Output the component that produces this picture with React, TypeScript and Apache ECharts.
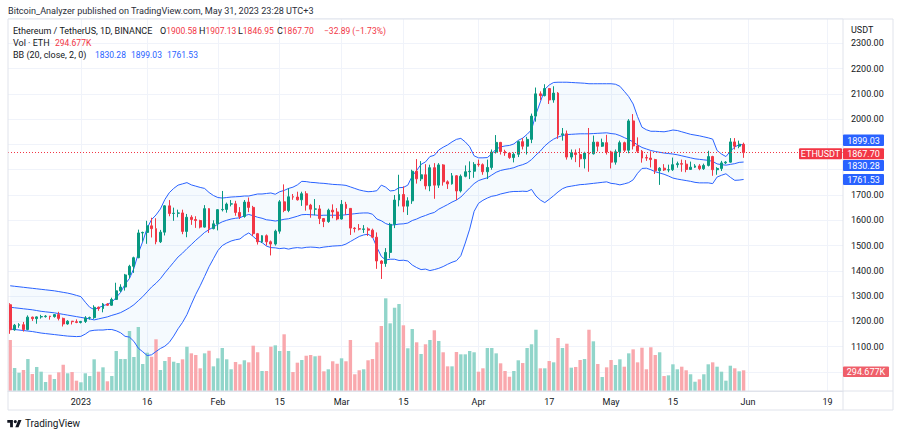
import React, { useEffect, useRef } from "react";
import * as echarts from "echarts";

// ---------- data ----------
const START_UTC = Date.UTC(2022, 11, 16);
const TOTAL_SLOTS = 189; // Dec 16 2022 .. Jun 22 2023 (future slots empty)

const opens = [1266,1167,1185,1187,1168,1217,1211,1218,1219,1221,1219,1227,1212,1190,1201,1199,1196,1200,1214,1215,
1256,1251,1269,1264,1287,1321,1336,1384,1418,1452,1550,1552,1578,1567,1515,1553,1657,1627,1628,1629,
1556,1612,1603,1599,1573,1646,1567,1586,1642,1643,1664,1665,1631,1615,1672,1651,1547,1515,1539,1515,
1506,1557,1673,1639,1693,1692,1681,1705,1660,1644,1645,1607,1595,1640,1633,1605,1663,1647,1569,1567,
1564,1566,1561,1533,1439,1429,1473,1584,1680,1702,1656,1677,1794,1764,1780,1736,1808,1739,1819,1752,
1744,1776,1716,1774,1792,1794,1822,1820,1792,1809,1870,1908,1872,1866,1848,1861,1911,1893,1920,2012,
2100,2093,2121,2076,2103,1938,1942,1850,1867,1860,1843,1866,1863,1909,1893,1907,1870,1830,1871,1907,
1877,1993,1894,1873,1848,1846,1840,1796,1806,1799,1800,1820,1824,1822,1801,1810,1815,1804,1817,1852,
1800,1805,1827,1830,1910,1893,1900.58];
const highs = [1272,1190,1193,1198,1224,1219,1220,1226,1225,1222,1229,1238,1215,1205,1202,1208,1202,1221,1219,1264,
1259,1273,1272,1294,1353,1347,1388,1424,1456,1563,1555,1598,1610,1608,1562,1660,1680,1650,1642,1642,
1625,1620,1616,1602,1660,1648,1600,1644,1716,1670,1680,1677,1652,1680,1690,1657,1550,1541,1544,1520,
1563,1680,1742,1727,1704,1713,1713,1715,1665,1684,1660,1609,1646,1663,1648,1680,1673,1648,1573,1585,
1581,1572,1567,1552,1442,1490,1590,1700,1780,1734,1691,1800,1842,1834,1822,1820,1826,1826,1822,1758,
1787,1779,1781,1817,1833,1830,1840,1825,1840,1880,1937,1910,1879,1870,1868,1915,1925,1930,2022,2125,
2110,2138,2122,2130,2107,1965,1955,1880,1880,1885,1871,1965,1935,1910,1923,1938,1875,1880,1915,1911,
2000,2020,1928,1878,1860,1873,1843,1810,1822,1820,1848,1832,1840,1838,1832,1822,1822,1824,1875,1855,
1810,1835,1834,1925,1925,1915,1907.13];
const lows = [1151,1163,1175,1160,1165,1202,1191,1211,1215,1207,1215,1204,1180,1187,1188,1193,1192,1194,1207,1210,
1242,1236,1262,1262,1285,1316,1322,1370,1392,1450,1515,1507,1532,1505,1510,1540,1616,1598,1612,1545,
1533,1582,1570,1568,1571,1550,1564,1560,1635,1630,1655,1618,1605,1610,1632,1538,1504,1510,1500,1461,
1500,1547,1632,1632,1681,1678,1657,1638,1610,1620,1585,1573,1590,1608,1600,1603,1622,1542,1552,1560,
1550,1538,1530,1408,1368,1416,1450,1569,1655,1632,1621,1665,1745,1755,1722,1715,1685,1728,1737,1724,
1741,1680,1710,1770,1763,1768,1812,1780,1763,1800,1864,1860,1855,1843,1829,1850,1880,1860,1905,1990,
2075,2090,2060,2065,1922,1915,1840,1840,1830,1810,1805,1792,1860,1872,1890,1860,1805,1820,1850,1870,
1865,1880,1866,1828,1835,1809,1783,1740,1795,1790,1795,1808,1792,1790,1799,1807,1798,1799,1813,1776,
1780,1795,1822,1828,1880,1885,1846.95];
const closes = [1167,1185,1187,1168,1217,1211,1218,1219,1221,1219,1227,1212,1190,1201,1199,1196,1200,1214,1215,1256,
1251,1269,1264,1287,1321,1336,1384,1418,1452,1550,1552,1578,1567,1515,1553,1657,1627,1628,1629,1556,
1612,1603,1599,1573,1646,1567,1586,1642,1643,1664,1665,1631,1615,1672,1651,1547,1515,1539,1515,1506,
1557,1673,1639,1693,1692,1681,1705,1660,1644,1645,1607,1595,1640,1633,1605,1663,1647,1569,1567,1565,
1566,1561,1533,1439,1429,1473,1584,1680,1702,1656,1677,1794,1764,1780,1736,1808,1739,1819,1752,1744,
1776,1716,1774,1792,1794,1821,1820,1792,1809,1870,1908,1872,1866,1848,1861,1911,1893,1920,2012,2100,
2093,2121,2076,2103,1938,1942,1850,1867,1860,1843,1866,1863,1909,1893,1907,1870,1830,1871,1907,1877,
1993,1894,1873,1846,1846,1840,1796,1806,1799,1800,1820,1824,1822,1801,1810,1815,1804,1817,1852,1800,
1805,1827,1830,1910,1893,1901,1867.70];
// volume in thousands of ETH
const volumes = [726,327,260,299,455,242,342,275,128,232,171,266,374,252,270,147,124,252,213,451,
275,337,138,213,569,455,455,854,484,911,384,545,488,736,299,427,484,417,398,451,
630,536,512,323,536,573,351,465,612,451,309,413,380,437,408,645,551,285,285,630,
650,569,807,569,270,403,441,502,512,494,502,280,309,423,388,465,423,726,238,295,
309,437,455,693,925,1319,963,1185,1238,935,608,882,693,527,665,726,864,712,551,351,
351,555,522,522,569,551,275,323,612,612,536,394,285,203,285,437,398,612,665,872,
323,323,427,408,754,612,673,332,342,441,455,872,707,384,199,337,441,370,451,346,
536,593,408,616,309,622,512,551,213,223,380,309,346,295,238,132,166,238,380,408,
346,275,147,360,323,280,294.677];
const bbUpper = [1341,1339,1337,1335,1333,1331,1329,1327,1325,1323,1321,1318,1315,1312,1308,1303,1298,1276,1256,1247,
1254,1262,1268,1276,1295,1315,1347,1370,1410,1470,1516,1569,1603,1621,1645,1682,1709,1726,1739,1744,
1749,1740,1735,1730,1726,1710,1698,1690,1688,1690,1692,1693,1694,1696,1696,1700,1704,1704,1706,1708,
1703,1713,1718,1726,1731,1740,1754,1753,1750,1749,1747,1746,1744,1742,1741,1740,1738,1732,1726,1720,
1716,1713,1714,1717,1739,1731,1716,1718,1729,1730,1739,1775,1797,1821,1831,1852,1857,1878,1889,1898,
1910,1920,1924,1910,1891,1855,1847,1847,1848,1863,1882,1890,1894,1896,1902,1916,1925,1940,1958,2020,
2068,2118,2135,2145,2146,2146,2146,2145,2144,2143,2142,2140,2140,2140,2140,2140,2140,2138,2130,2110,
2089,2060,2010,1968,1958,1952,1952,1951,1950,1953,1957,1955,1950,1945,1940,1937,1934,1930,1926,1921,
1876,1862,1852,1873,1890,1899,1899.03];
const bbMiddle = [1256,1254,1252,1250,1248,1246,1243,1240,1238,1236,1234,1231,1228,1225,1222,1219,1216,1213,1210,1206,
1210,1214,1218,1224,1229,1235,1244,1254,1266,1282,1298,1317,1336,1351,1369,1392,1413,1434,1455,1470,
1488,1504,1521,1536,1552,1563,1573,1585,1594,1600,1605,1608,1610,1618,1623,1618,1612,1608,1602,1600,
1597,1600,1604,1606,1611,1616,1622,1623,1622,1621,1619,1620,1620,1620,1620,1620,1622,1624,1626,1628,
1629,1629,1624,1605,1598,1587,1581,1582,1585,1586,1589,1599,1605,1613,1619,1626,1631,1644,1653,1662,
1672,1680,1692,1710,1728,1745,1757,1763,1768,1779,1790,1797,1801,1804,1808,1815,1820,1827,1840,1858,
1874,1894,1909,1921,1929,1935,1939,1940,1941,1942,1942,1942,1943,1944,1945,1946,1943,1941,1935,1927,
1919,1910,1898,1888,1882,1876,1872,1869,1866,1864,1862,1859,1855,1851,1847,1843,1841,1839,1837,1833,
1823,1820,1818,1821,1824,1829,1830.28];
const bbLower = [1170,1168,1166,1164,1162,1160,1157,1154,1152,1150,1148,1146,1144,1142,1141,1140,1141,1150,1162,1165,
1166,1166,1168,1168,1163,1155,1141,1138,1121,1094,1080,1065,1068,1081,1093,1102,1117,1142,1171,1196,
1227,1268,1307,1341,1378,1416,1448,1480,1500,1510,1518,1523,1526,1540,1550,1536,1520,1512,1498,1492,
1491,1488,1490,1486,1490,1492,1490,1493,1494,1493,1491,1494,1496,1498,1499,1500,1506,1516,1526,1536,
1542,1545,1534,1493,1457,1443,1446,1446,1441,1442,1439,1423,1413,1405,1407,1401,1405,1410,1417,1426,
1434,1440,1460,1510,1565,1635,1667,1679,1688,1695,1698,1704,1708,1712,1714,1714,1715,1714,1722,1696,
1680,1670,1683,1697,1712,1725,1732,1735,1738,1741,1742,1744,1746,1748,1750,1752,1746,1744,1740,1744,
1749,1760,1786,1805,1806,1800,1792,1787,1782,1775,1767,1763,1760,1757,1754,1750,1748,1748,1748,1745,
1771,1778,1784,1770,1758,1759,1761.53];

const timeTicks = [
  { date: "2023-01-01", label: "2023" },
  { date: "2023-01-16", label: "16" },
  { date: "2023-02-01", label: "Feb" },
  { date: "2023-02-15", label: "15" },
  { date: "2023-03-01", label: "Mar" },
  { date: "2023-03-15", label: "15" },
  { date: "2023-04-01", label: "Apr" },
  { date: "2023-04-17", label: "17" },
  { date: "2023-05-01", label: "May" },
  { date: "2023-05-15", label: "15" },
  { date: "2023-06-01", label: "Jun" },
  { date: "2023-06-19", label: "19" },
];
const hiddenPriceLabels = [1000, 1800, 1900, 2400];

// ---------- style ----------
const UP = "#089981";
const DOWN = "#f23645";
const VOL_UP = "#91d5ca";
const VOL_DOWN = "#f9a8ad";
const BB = "#2962ff";
const GRID = "#f0f3fa";
const FRAME = "#e0e3eb";
const TXT = "#131722";
const FONT = "Roboto, 'Noto Sans', sans-serif";
const LBL = 9; // legend label size
const NUM = 8.5; // legend number size

const TV_LOGO = "M14 22H7V11H0V4h14v18zM28 22h-8l7.5-18h8L28 22zM24 8a4 4 0 1 1-8 0a4 4 0 0 1 8 0z";
echarts.graphic.registerShape("tvlogo", echarts.graphic.extendPath(TV_LOGO, {}));

function buildDates(): string[] {
  const out: string[] = [];
  for (let i = 0; i < TOTAL_SLOTS; i++) {
    out.push(new Date(START_UTC + i * 86400000).toISOString().slice(0, 10));
  }
  return out;
}

function txt(x: number, y: number, text: string, fill: string, size = 9, extra: any = {}) {
  return {
    type: "text",
    x,
    y,
    z: 100,
    silent: true,
    style: { text, fill, font: `${size}px ${FONT}`, verticalAlign: "middle", ...extra },
  };
}

function ohlc(x: number, y: number, l: string, v: string) {
  return txt(x, y, `{l|${l}}{v|${v}}`, TXT, LBL, {
    rich: {
      l: { fill: TXT, font: `${LBL}px ${FONT}` },
      v: { fill: DOWN, font: `${NUM}px ${FONT}` },
    },
  });
}

function tag(x: number, y: number, w: number, h: number, bg: string, text: string) {
  return {
    type: "group",
    z: 100,
    children: [
      { type: "rect", shape: { x, y, width: w, height: h, r: 1 }, style: { fill: bg }, z: 100 },
      {
        type: "text",
        x: x + w / 2,
        y: y + h / 2 + 0.5,
        z: 101,
        style: { text, fill: "#ffffff", font: `9px ${FONT}`, align: "center", verticalAlign: "middle" },
      },
    ],
  };
}

function line(x1: number, y1: number, x2: number, y2: number) {
  return {
    type: "line",
    z: 50,
    silent: true,
    shape: { x1, y1, x2, y2 },
    style: { stroke: FRAME, lineWidth: 1 },
  };
}

export default function App() {
  const ref = useRef<HTMLDivElement>(null);

  useEffect(() => {
    if (!ref.current) return;
    const chart = echarts.init(ref.current, undefined, { renderer: "svg" });
    const dates = buildDates();
    const labelByDate: Record<string, string> = {};
    timeTicks.forEach((t) => (labelByDate[t.date] = t.label));
    const isTick = (_i: number, v: string) => labelByDate[v] !== undefined;

    const candles = opens.map((o, i) => [o, closes[i], lows[i], highs[i]]);
    const vols = volumes.map((v, i) => ({
      value: v,
      itemStyle: { color: closes[i] >= opens[i] ? VOL_UP : VOL_DOWN },
    }));
    const bandWidth = bbUpper.map((u, i) => +(u - bbLower[i]).toFixed(2));
    const last = closes.length - 1;

    const option: any = {
      animation: false,
      grid: [
        { left: 8, right: 57, top: 18, height: 354 },
        { left: 8, right: 57, top: 19, bottom: 46 },
      ],
      xAxis: [
        { type: "category", gridIndex: 0, data: dates, boundaryGap: true, show: false },
        {
          type: "category",
          gridIndex: 1,
          data: dates,
          boundaryGap: true,
          axisLine: { show: true, lineStyle: { color: FRAME } },
          axisTick: {
            show: true,
            inside: true,
            length: 372,
            alignWithLabel: true,
            interval: isTick,
            lineStyle: { color: GRID, width: 1 },
          },
          axisLabel: {
            interval: isTick,
            formatter: (v: string) => labelByDate[v] || "",
            color: TXT,
            fontSize: 9,
            fontFamily: FONT,
            margin: 6,
          },
          splitLine: { show: false },
        },
      ],
      yAxis: [
        {
          type: "value",
          gridIndex: 0,
          position: "right",
          min: 1000,
          max: 2400,
          interval: 100,
          axisLine: { show: false },
          axisTick: { show: false },
          splitLine: { show: true, lineStyle: { color: GRID, width: 1 } },
          axisLabel: {
            formatter: (v: number) => (hiddenPriceLabels.includes(v) ? "" : v.toFixed(2)),
            color: TXT,
            fontSize: 9,
            fontFamily: FONT,
            margin: 8,
          },
        },
        { type: "value", gridIndex: 1, min: 0, max: 5294, show: false, splitLine: { show: false } },
      ],
      series: [
        {
          name: "bbBase",
          type: "line",
          xAxisIndex: 0,
          yAxisIndex: 0,
          data: bbLower,
          stack: "bb",
          symbol: "none",
          silent: true,
          lineStyle: { opacity: 0 },
          z: 1,
        },
        {
          name: "bbFill",
          type: "line",
          xAxisIndex: 0,
          yAxisIndex: 0,
          data: bandWidth,
          stack: "bb",
          symbol: "none",
          silent: true,
          lineStyle: { opacity: 0 },
          areaStyle: { color: "rgba(33,150,243,0.07)" },
          z: 1,
        },
        {
          name: "Volume",
          type: "bar",
          xAxisIndex: 1,
          yAxisIndex: 1,
          data: vols,
          barWidth: 3.4,
          silent: true,
          z: 2,
        },
        ...[bbUpper, bbMiddle, bbLower].map((d, k) => ({
          name: ["Upper", "Basis", "Lower"][k],
          type: "line",
          xAxisIndex: 0,
          yAxisIndex: 0,
          data: d,
          symbol: "none",
          silent: true,
          lineStyle: { color: BB, width: 1 },
          z: 3,
        })),
        {
          name: "ETHUSDT",
          type: "candlestick",
          xAxisIndex: 0,
          yAxisIndex: 0,
          data: candles,
          barWidth: 2.4,
          z: 4,
          itemStyle: { color: UP, color0: DOWN, borderColor: UP, borderColor0: DOWN, borderWidth: 1 },
          markLine: {
            silent: true,
            symbol: ["none", "none"],
            label: { show: false },
            lineStyle: { color: DOWN, type: [1, 2], width: 1 },
            data: [{ yAxis: closes[last] }],
          },
        },
      ],
      graphic: [
        line(8, 19, 893, 19),
        line(8, 19, 8, 410),
        line(893, 19, 893, 410),
        line(843, 19, 843, 410),
        line(8, 391, 893, 391),
        line(8, 410, 893, 410),
        txt(8, 11, "Bitcoin_Analyzer published on TradingView.com, May 31, 2023 23:28 UTC+3", "#2a2e39", 9.1),
        txt(13, 31, "Ethereum / TetherUS, 1D, BINANCE", TXT, 9),
        ohlc(160, 31, "O", "1900.58"),
        ohlc(199, 31, "H", "1907.13"),
        ohlc(238, 31, "L", "1846.95"),
        ohlc(277, 31, "C", "1867.70"),
        txt(324, 31, "\u221232.89 (\u22121.73%)", DOWN, NUM),
        txt(13, 43, "Vol \u00b7 ETH", TXT, LBL),
        txt(55, 43, "294.677K", DOWN, NUM),
        txt(13, 55, "BB (20, close, 2, 0)", TXT, LBL),
        txt(95, 55, "1830.28", BB, NUM),
        txt(131, 55, "1899.03", BB, NUM),
        txt(167, 55, "1761.53", BB, NUM),
        txt(851, 30, "USDT", TXT),
        tag(843, 134.5, 41, 11.5, BB, "1899.03"),
        tag(843, 148.3, 41, 11, DOWN, "1867.70"),
        tag(843, 160, 41, 11, BB, "1830.28"),
        tag(843, 174, 41, 11, BB, "1761.53"),
        tag(799, 148.3, 43, 11, DOWN, "ETHUSDT"),
        tag(843, 366.5, 46, 10.5, "#ef5f6a", "294.677K"),
        {
          type: "tvlogo",
          x: 7.3,
          y: 418.4,
          scaleX: 0.4,
          scaleY: 0.4,
          z: 100,
          silent: true,
          style: { fill: TXT },
        },
        txt(25, 423.5, "TradingView", TXT, 10),
      ],
    };

    chart.setOption(option);
    return () => chart.dispose();
  }, []);

  return (
    <div
      ref={ref}
      style={{ position: "fixed", left: 0, top: 0, width: 900, height: 437, background: "#ffffff" }}
    />
  );
}
